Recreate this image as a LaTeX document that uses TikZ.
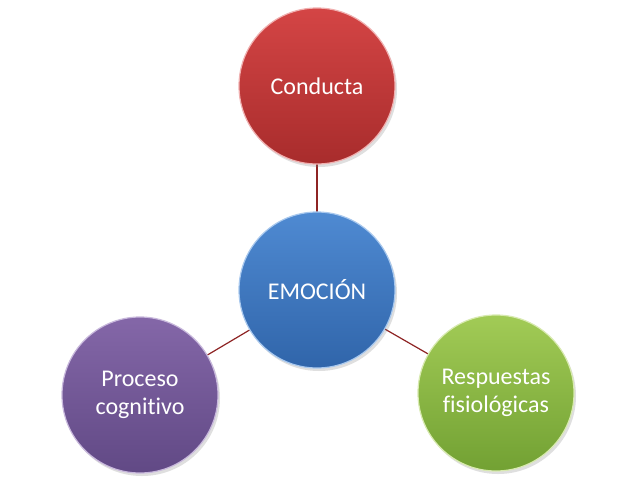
\documentclass[tikz,border=0pt]{standalone}
\usepackage{fontspec}
\setmainfont{Carlito}[Ligatures=NoCommon]
\usetikzlibrary{backgrounds,shadows}
\definecolor{redtop}{HTML}{D44545}
\definecolor{redbot}{HTML}{A82C2C}
\definecolor{redrim}{HTML}{F0B0B0}
\definecolor{bluetop}{HTML}{4F8AD2}
\definecolor{bluebot}{HTML}{3065AA}
\definecolor{bluerim}{HTML}{A8C8EE}
\definecolor{purtop}{HTML}{8467A8}
\definecolor{purbot}{HTML}{614985}
\definecolor{purrim}{HTML}{C8B8DC}
\definecolor{grntop}{HTML}{A2CB56}
\definecolor{grnbot}{HTML}{72A133}
\definecolor{grnrim}{HTML}{D8EAB0}
\definecolor{linkcol}{HTML}{8E2424}
\tikzset{
  bubble/.style={circle, minimum size=156pt, inner sep=0pt, align=center,
    text=white, font=\fontsize{24}{28}\selectfont, line width=1.2pt,
    drop shadow={shadow xshift=2pt, shadow yshift=-3pt, opacity=0.25}},
  redb/.style={bubble, draw=redrim, top color=redtop, bottom color=redbot},
  blueb/.style={bubble, draw=bluerim, top color=bluetop, bottom color=bluebot},
  purb/.style={bubble, draw=purrim, top color=purtop, bottom color=purbot},
  grnb/.style={bubble, draw=grnrim, top color=grntop, bottom color=grnbot},
  link/.style={draw=linkcol, line width=1.2pt}
}
\begin{document}
\begin{tikzpicture}[x=1pt,y=-1pt]
\useasboundingbox (0,0) rectangle (638,480);
\node[redb]  (con) at (317,86)  {Conducta};
\node[blueb] (emo) at (317,290) {EMOCIÓN};
\node[purb]  (pro) at (140,395) {Proceso\\cognitivo};
\node[grnb]  (res) at (496,393) {Respuestas\\fisiológicas};
\begin{scope}[on background layer]
\fill[white] (0,0) rectangle (638,480);
\draw[link] (emo.center) -- (con.center);
\draw[link] (emo.center) -- (pro.center);
\draw[link] (emo.center) -- (res.center);
\end{scope}
\end{tikzpicture}
\end{document}
